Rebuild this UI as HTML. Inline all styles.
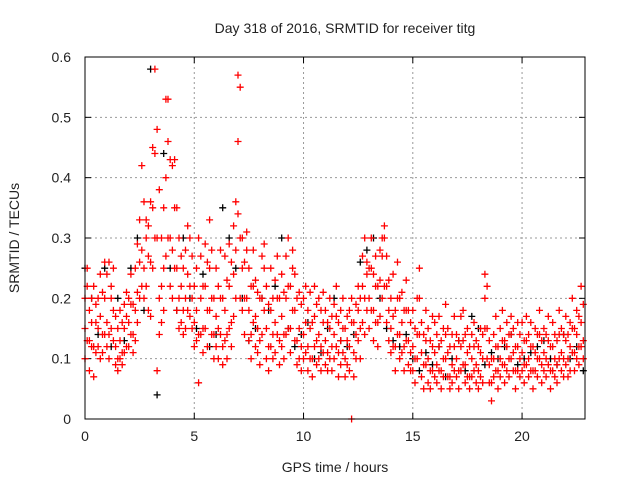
<!DOCTYPE html>
<html><head><meta charset="utf-8">
<style>
html,body{margin:0;padding:0;background:#fff;}
svg{display:block;font-family:"Liberation Sans",sans-serif;}
</style></head>
<body>
<svg id="chart" width="640" height="480" viewBox="0 0 640 480">
<text x="345" y="33" font-size="14" text-anchor="middle" fill="#222">Day 318 of 2016, SRMTID for receiver titg</text>
<text x="335" y="472" font-size="14" text-anchor="middle" fill="#222">GPS time / hours</text>
<text transform="translate(19,238) rotate(-90)" font-size="14" text-anchor="middle" fill="#222">SRMTID / TECUs</text>
<g id="grid"></g>
<g id="ticks"></g>
<g id="black"></g>
<g id="red"></g>
<rect x="85" y="57" width="500" height="362" fill="none" stroke="#000" stroke-width="1"/>
</svg>
<script>
const xTicks=[0,5,10,15,20];
const yTicks=[0,0.1,0.2,0.3,0.4,0.5,0.6];
const yTickLabels=["0","0.1","0.2","0.3","0.4","0.5","0.6"];
const stepRed=0.1;
const redA=[.15,.22,.13,.16,.12,.16,.15,.17,.14,.2,.16,.14,.22,.18,.12,.1,.13,.11,.15,.17,.16,.19,.14,.18,.21,.26,.28,.25,.3,.27,.26,.35,.44,.3,.2,.22,.25,.4,.46,.3,.28,.35,.25,.2,.22,.18,.2,.24,.22,.2,.16,.18,.14,.2,.15,.22,.18,.25,.2,.14,.17,.15,.2,.12,.18,.14,.22,.16,.24,.28,.46,.3,.25,.2,.28,.18,.14,.22,.17,.15,.13,.2,.25,.15,.12,.18,.14,.16,.2,.13,.17,.14,.2,.22,.15,.25,.18,.13,.15,.12,.14,.16,.12,.15,.1,.17,.13,.14,.12,.16,.13,.11,.15,.12,.14,.17,.11,.13,.15,.1,.13,.12,.16,.11,.14,.18,.15,.22,.2,.24,.2,.25,.18,.22,.16,.23,.27,.3,.22,.18,.15,.17,.12,.2,.14,.16,.12,.18,.13,.11,.12,.1,.14,.2,.11,.09,.13,.1,.08,.12,.11,.09,.12,.08,.1,.14,.11,.07,.09,.12,.1,.08,.12,.13,.09,.11,.07,.1,.12,.09,.08,.11,.1,.2,.15,.09,.06,.1,.12,.08,.1,.13,.09,.12,.1,.14,.11,.08,.12,.1,.11,.09,.13,.1,.12,.08,.11,.1,.14,.09,.11,.1,.13,.08,.12,.1,.09,.14,.11,.1,.13,.1,.12,.15,.11,.14,.12,.16,.13];
const redB=[.2,.25,.18,.2,.22,.19,.2,.24,.21,.26,.24,.26,.2,.25,.17,.15,.18,.16,.19,.21,.2,.24,.19,.25,.29,.33,.42,.36,.33,.32,.36,.45,.58,.48,.38,.3,.35,.53,.53,.43,.42,.43,.35,.3,.27,.25,.28,.32,.3,.27,.22,.25,.3,.27,.22,.29,.26,.33,.28,.2,.25,.22,.28,.2,.27,.23,.29,.26,.32,.36,.57,.55,.3,.26,.31,.25,.22,.28,.23,.21,.2,.27,.29,.22,.19,.25,.2,.23,.27,.2,.24,.21,.27,.3,.22,.28,.24,.2,.21,.19,.2,.22,.18,.21,.16,.22,.19,.2,.18,.21,.18,.16,.2,.17,.19,.22,.16,.18,.2,.15,.17,.18,.2,.16,.19,.22,.2,.27,.3,.26,.25,.3,.24,.27,.22,.28,.3,.32,.27,.23,.2,.24,.18,.26,.2,.21,.18,.23,.18,.16,.18,.15,.2,.25,.16,.14,.18,.15,.13,.17,.16,.14,.17,.13,.15,.19,.15,.12,.14,.17,.14,.13,.17,.18,.14,.15,.12,.14,.16,.13,.12,.15,.14,.24,.22,.13,.1,.14,.17,.12,.15,.18,.13,.16,.14,.17,.15,.12,.16,.14,.16,.13,.17,.14,.16,.12,.15,.14,.18,.13,.15,.14,.17,.12,.16,.14,.13,.18,.15,.14,.17,.14,.16,.2,.15,.18,.17,.22,.19];
const redC=[.1,.13,.08,.12,.07,.11,.12,.1,.11,.14,.12,.1,.15,.13,.09,.08,.1,.09,.11,.12,.12,.14,.11,.13,.16,.2,.22,.2,.22,.18,.17,.25,.3,.08,.14,.16,.18,.27,.3,.22,.2,.25,.18,.15,.16,.14,.15,.18,.17,.15,.12,.13,.06,.14,.11,.15,.12,.18,.14,.1,.12,.1,.14,.09,.13,.1,.15,.12,.17,.2,.34,.2,.18,.14,.2,.13,.1,.16,.12,.11,.09,.14,.18,.1,.08,.12,.1,.11,.14,.09,.12,.1,.14,.15,.11,.18,.13,.09,.1,.08,.1,.11,.08,.1,.07,.12,.09,.1,.08,.11,.09,.08,.1,.08,.1,.12,.07,.09,.11,.07,.09,.08,0,.07,.1,.13,.1,.16,.14,.18,.15,.18,.13,.16,.12,.17,.2,.22,.16,.13,.11,.12,.08,.14,.1,.11,.08,.13,.09,.08,.08,.06,.1,.14,.07,.05,.09,.06,.05,.08,.07,.06,.08,.05,.07,.1,.07,.05,.06,.08,.07,.05,.08,.09,.06,.07,.05,.07,.08,.06,.05,.07,.06,.15,.1,.06,.03,.07,.08,.05,.07,.09,.06,.08,.07,.1,.08,.05,.08,.07,.08,.06,.09,.07,.08,.05,.08,.07,.1,.06,.08,.07,.09,.05,.08,.07,.06,.1,.08,.07,.09,.07,.08,.11,.08,.1,.09,.12,.1];
const stepBlack=0.3;
const blackVals=[.25,.2,.14,.25,.12,.2,.13,.25,.3,.18,.58,.04,.44,.25,.18,.3,.2,.15,.24,.12,.14,.35,.3,.25,.2,.13,.15,.2,.18,.22,.3,.15,.12,.14,.16,.1,.11,.15,.2,.13,.12,.14,.26,.28,.3,.2,.15,.13,.12,.14,.1,.08,.11,.09,.12,.07,.1,.13,.08,.17,.15,.09,.11,.1,.12,.14,.09,.1,.11,.12,.13,.1,.09,.14,.1,.12,.08];

const X0=85,X1=585,Y0=419,Y1=57,XMAX=22.88,YMAX=0.6;
const xs=v=>X0+(X1-X0)*v/XMAX;
const ys=v=>Y0-(Y0-Y1)*v/YMAX;
const NS="http://www.w3.org/2000/svg";
const grid=document.getElementById('grid'),ticks=document.getElementById('ticks');
function mk(tag,attrs,parent){const e=document.createElementNS(NS,tag);for(const k in attrs)e.setAttribute(k,attrs[k]);parent.appendChild(e);return e;}
xTicks.forEach(t=>{
  const x=xs(t);
  if(t>0){const g=mk('line',{x1:x,x2:x,y1:Y1,y2:Y0,stroke:'#999','stroke-dasharray':'2,3','stroke-width':1},grid);
  
  }
  mk('line',{x1:x,x2:x,y1:Y0,y2:Y0-6,stroke:'#000'},ticks);
  mk('line',{x1:x,x2:x,y1:Y1,y2:Y1+6,stroke:'#000'},ticks);
  const tx=mk('text',{x:x,y:Y0+22,'font-size':14,'text-anchor':'middle',fill:'#222'},ticks);
  tx.textContent=String(t);
  
  
});
yTicks.forEach((t,i)=>{
  const y=ys(t);
  if(t>0&&t<YMAX){const g=mk('line',{x1:X0,x2:X1,y1:y,y2:y,stroke:'#999','stroke-dasharray':'2,3','stroke-width':1},grid);
  
  }
  mk('line',{x1:X0,x2:X0+6,y1:y,y2:y,stroke:'#000'},ticks);
  mk('line',{x1:X1,x2:X1-6,y1:y,y2:y,stroke:'#000'},ticks);
  const tx=mk('text',{x:X0-14,y:y+5,'font-size':14,'text-anchor':'end',fill:'#222'},ticks);
  tx.textContent=yTickLabels[i];
  
  
});
function plus(vals,step,col,gid,name){
  let d='';
  vals.forEach((v,i)=>{const x=xs(i*step),y=ys(v);d+=`M${(x-3.5).toFixed(1)} ${y.toFixed(1)}h7M${x.toFixed(1)} ${(y-3.5).toFixed(1)}v7`;});
  const p=mk('path',{d:d,stroke:col,'stroke-width':1.3,fill:'none'},document.getElementById(gid));
  
  
}
plus(blackVals,stepBlack,'#000','black','black-points');
plus(redA,stepRed,'#f00','red','red-points-a');
plus(redB,stepRed,'#f00','red','red-points-b');
plus(redC,stepRed,'#f00','red','red-points-c');
</script>
</body></html>
